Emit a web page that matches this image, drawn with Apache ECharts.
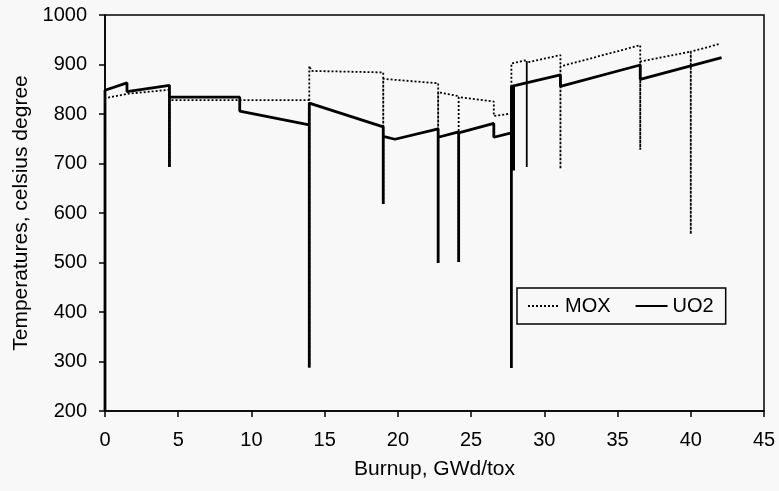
<!DOCTYPE html>
<html>
<head>
<meta charset="utf-8">
<script src="https://cdn.jsdelivr.net/npm/echarts@6/dist/echarts.min.js"></script>
<style>
  html, body { margin: 0; padding: 0; background: #f8f8f8; }
  #chart { width: 779px; height: 491px; }
</style>
</head>
<body>
<div id="chart"></div>
<script>
// Fuel temperature history against burnup (GWd/t), MOX and UO2 assemblies.
// Vertical segments are reload steps and shutdown dips.
var moxBurnup = [0, 0, 1.6, 4.4, 4.4, 4.4, 13.95, 13.95, 13.95, 14.1, 19.0, 19.0, 19.0,
  22.75, 22.75, 22.75, 24.15, 24.15, 24.15, 26.55, 26.55, 27.75, 27.75, 28.8, 28.8, 28.8,
  31.1, 31.1, 31.1, 36.55, 36.55, 36.55, 40.0, 40.0, 40.0, 41.9];
var moxTemp = [200, 832, 841, 849, 693, 828, 828, 288, 897, 887, 884, 618, 871,
  862, 499, 844, 836, 501, 834, 825, 796, 801, 902, 909, 693, 904,
  919, 689, 896, 939, 728, 906, 926, 557, 926, 941];

var uo2Burnup = [0, 0, 1.5, 1.5, 4.4, 4.4, 4.4, 9.2, 9.2, 13.95, 13.95, 13.95, 19.0, 19.0,
  19.0, 19.8, 22.75, 22.75, 22.75, 24.15, 24.15, 24.15, 26.55, 26.55, 27.75, 27.75, 27.75,
  27.9, 27.9, 27.9, 31.1, 31.1, 36.55, 36.55, 42.1];
var uo2Temp = [200, 848, 863, 845, 858, 693, 834, 834, 806, 778, 288, 822, 774, 618,
  755, 749, 770, 499, 753, 764, 501, 762, 781, 753, 762, 287, 856,
  857, 686, 857, 879, 856, 899, 870, 914];

var seriesNames = ['MOX', 'UO2'];
var xAxisTitle = 'Burnup, GWd/tox';
var yAxisTitle = 'Temperatures, celsius degree';

function pairs(xs, ys) {
  return xs.map(function (x, i) { return [x, ys[i]]; });
}

var font = 'Liberation Sans, Arial, sans-serif';
var chart = echarts.init(document.getElementById('chart'), null, { renderer: 'canvas' });

chart.setOption({
  animation: false,
  backgroundColor: '#f8f8f8',
  grid: {
    left: 105, right: 15, top: 15, bottom: 80,
    show: true, borderColor: '#000', borderWidth: 1.5, backgroundColor: 'transparent'
  },
  legend: {
    left: 517, top: 288,
    orient: 'horizontal',
    padding: [8, 12, 8, 10],
    itemGap: 24,
    itemWidth: 32, itemHeight: 12,
    borderColor: '#000', borderWidth: 1.5,
    backgroundColor: '#f8f8f8',
    itemStyle: { opacity: 0 },
    textStyle: { fontFamily: font, fontSize: 20, color: '#000' },
    data: seriesNames
  },
  xAxis: {
    type: 'value', min: 0, max: 45, interval: 5,
    name: xAxisTitle, nameLocation: 'middle', nameGap: 48,
    nameTextStyle: { fontFamily: font, fontSize: 21, color: '#000' },
    axisLine: { lineStyle: { color: '#000', width: 1.5 } },
    axisTick: { inside: false, length: 6, lineStyle: { color: '#000', width: 1.5 } },
    axisLabel: { fontFamily: font, fontSize: 20, color: '#000', margin: 19 },
    splitLine: { show: false }
  },
  yAxis: {
    type: 'value', min: 200, max: 1000, interval: 100,
    name: yAxisTitle, nameLocation: 'middle', nameGap: 60, nameRotate: 90,
    nameTextStyle: { fontFamily: font, fontSize: 21, color: '#000' },
    axisLine: { show: true, lineStyle: { color: '#000', width: 1.5 } },
    axisTick: { show: true, inside: false, length: 6, lineStyle: { color: '#000', width: 1.5 } },
    axisLabel: {
      fontFamily: font, fontSize: 20, color: '#000', margin: 18,
      formatter: function (v) { return String(v); }
    },
    splitLine: { show: false }
  },
  series: [
    {
      name: seriesNames[0], type: 'line', symbol: 'none', z: 2,
      data: pairs(moxBurnup, moxTemp),
      lineStyle: { color: '#000', width: 1.8, type: [2, 2] },
      itemStyle: { color: '#000' }
    },
    {
      name: seriesNames[1], type: 'line', symbol: 'none', z: 3,
      data: pairs(uo2Burnup, uo2Temp),
      lineStyle: { color: '#000', width: 2.8, type: 'solid' },
      itemStyle: { color: '#000' }
    }
  ]
});
</script>
</body>
</html>
